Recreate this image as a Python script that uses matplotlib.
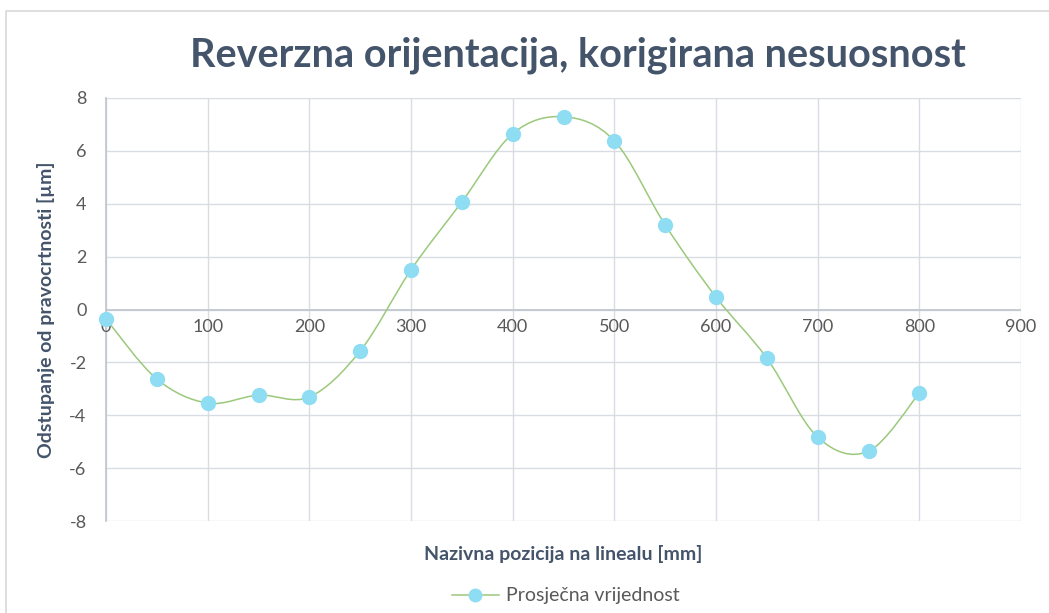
import matplotlib
matplotlib.use('Agg')
from matplotlib import pyplot as plt
from matplotlib.path import Path
from matplotlib.patches import PathPatch, Rectangle
from matplotlib.lines import Line2D

plt.rcParams['font.family'] = ['Lato', 'DejaVu Sans']
plt.rcParams['axes.unicode_minus'] = False

# positions along the ruler [mm]
pozicije = [0, 50, 100, 150, 200, 250, 300, 350, 400, 450, 500, 550, 600, 650, 700, 750, 800]
# average deviation [um]
odstupanje = [-0.36, -2.63, -3.54, -3.24, -3.31, -1.57, 1.50, 4.07, 6.65, 7.29, 6.38,
              3.20, 0.47, -1.84, -4.83, -5.36, -3.16]

x_ticks = [0, 100, 200, 300, 400, 500, 600, 700, 800, 900]
y_ticks = [-8, -6, -4, -2, 0, 2, 4, 6, 8]

title_col = '#44546A'
tick_col = '#595959'
grid_col = '#D9DDE3'
line_col = '#9BC97C'
marker_col = '#8EDDF3'


def smooth_path(xs, ys):
    # Catmull-Rom style bezier, like the spreadsheet "smoothed line"
    pts = list(zip(xs, ys))
    verts = [pts[0]]
    codes = [Path.MOVETO]
    n = len(pts)
    for i in range(n - 1):
        p0 = pts[i - 1] if i > 0 else pts[i]
        p1 = pts[i]
        p2 = pts[i + 1]
        p3 = pts[i + 2] if i + 2 < n else pts[i + 1]
        c1 = (p1[0] + (p2[0] - p0[0]) / 6.0, p1[1] + (p2[1] - p0[1]) / 6.0)
        c2 = (p2[0] - (p3[0] - p1[0]) / 6.0, p2[1] - (p3[1] - p1[1]) / 6.0)
        verts += [c1, c2, p2]
        codes += [Path.CURVE4] * 3
    return Path(verts, codes)


fig = plt.figure(figsize=(10.49, 6.13), dpi=100)
fig.patches.append(Rectangle((6 / 1049, -0.1), 1.2, 1 - 11 / 613 + 0.1, transform=fig.transFigure,
                             fill=False, ec='#D9D9D9', lw=1.2))

ax = fig.add_axes([106 / 1049, 1 - 521 / 613, (1021 - 106) / 1049, (521 - 98) / 613])
ax.set_xlim(0, 900)
ax.set_ylim(-8, 8)
ax.set_xticks(x_ticks)
ax.set_yticks(y_ticks)
ax.grid(True, color=grid_col, lw=1)
ax.set_axisbelow(True)
for s in ['top', 'right', 'bottom']:
    ax.spines[s].set_visible(False)
ax.spines['left'].set_color('#BFC5CE')
ax.spines['left'].set_linewidth(1.2)
ax.axhline(0, color='#BFC5CE', lw=1.2, zorder=1)

ax.tick_params(axis='both', length=0, labelsize=13, labelcolor=tick_col)
ax.tick_params(axis='y', pad=14)
# x tick labels sit right under the zero line
ax.set_xticklabels([])
for xt in x_ticks:
    ax.text(xt, -0.35, str(xt), ha='center', va='top', fontsize=13, color=tick_col)

patch = PathPatch(smooth_path(pozicije, odstupanje), fill=False, ec=line_col, lw=1.1, zorder=3)
ax.add_patch(patch)
ax.plot(pozicije, odstupanje, 'o', ms=10, color=marker_col, mec=marker_col, zorder=4, clip_on=False)

ax.set_ylabel('Odstupanje od pravocrtnosti [µm]', fontsize=14, fontweight='bold', color=title_col, labelpad=10)
ax.set_xlabel('Nazivna pozicija na linealu [mm]', fontsize=14, fontweight='bold', color=title_col, labelpad=14)

fig.text(578 / 1049, 1 - 55 / 613, 'Reverzna orijentacija, korigirana nesuosnost', ha='center', va='center',
         fontsize=28.5, fontweight='bold', color=title_col)

h = Line2D([], [], color=line_col, lw=1.1, marker='o', ms=9, mfc=marker_col, mec=marker_col)
fig.legend([h], ['Prosječna vrijednost'], loc='center', bbox_to_anchor=(566 / 1049, 1 - 596 / 613),
           frameon=False, fontsize=14, labelcolor=tick_col, handlelength=2.4, handletextpad=0.4)

fig.savefig('out.png', dpi=100)
